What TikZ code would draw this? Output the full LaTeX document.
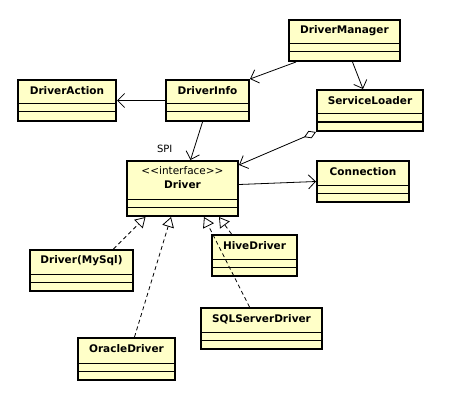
\documentclass[tikz,border=0pt]{standalone}
\usepackage{fontspec}
\setsansfont{DejaVu Sans}
\usetikzlibrary{arrows.meta,positioning}

\definecolor{umlfill}{RGB}{255,255,200}

\tikzset{
  classbox/.style={draw, line width=2pt, fill=umlfill, inner sep=0pt},
  classname/.style={font=\sffamily\bfseries\fontsize{10.5}{12}\selectfont, inner sep=0pt},
  assoc/.style={line width=0.8pt, -{Straight Barb[length=7pt,width=14pt]}},
  aggr/.style={line width=0.8pt, {Diamond[open,fill=white,length=13pt,width=8pt]}-{Straight Barb[length=7pt,width=14pt]}},
  realize/.style={line width=0.8pt, dash pattern=on 4pt off 3pt,
    -{Triangle[open,fill=white,length=10pt,width=12pt]}}
}

% class box: name, left, top, width, height, title
\newcommand\umlclass[6]{%
  \node[classbox, anchor=north west, minimum width=#4, minimum height=#5] (#1) at (#2,#3) {};
  \draw[line width=1pt] ([yshift=18]#1.south west) -- ([yshift=18]#1.south east);
  \draw[line width=1pt] ([yshift=10]#1.south west) -- ([yshift=10]#1.south east);
  \node[classname] (#1-t) at ([yshift=-12]#1.north) {#6};
}

\begin{document}
\begin{tikzpicture}[x=1pt, y=-1pt]
\useasboundingbox (0,0) rectangle (476,401);

\umlclass{mgr}{288}{19}{111}{41}{DriverManager}
\umlclass{action}{17}{79}{98}{41}{DriverAction}
\umlclass{info}{165}{79}{83}{41}{DriverInfo}
\umlclass{loader}{316}{89}{106}{41}{ServiceLoader}
\umlclass{conn}{316}{160}{92}{41}{Connection}
\umlclass{mysql}{29}{249}{103}{41}{Driver(MySql)}
\umlclass{hive}{211}{234}{85}{41}{HiveDriver}
\umlclass{sqls}{200}{307}{121}{41}{SQLServerDriver}
\umlclass{oracle}{77}{337}{97}{42}{OracleDriver}

% the interface
\node[classbox, anchor=north west, minimum width=111, minimum height=55] (drv) at (126,160) {};
\draw[line width=1pt] ([yshift=18]drv.south west) -- ([yshift=18]drv.south east);
\draw[line width=1pt] ([yshift=10]drv.south west) -- ([yshift=10]drv.south east);
\node[font=\sffamily\fontsize{10.5}{12}\selectfont, inner sep=0pt] (drv-s) at ([yshift=-11]drv.north) {<{}<interface>{}>};
\node[classname, below=5pt of drv-s] (drv-t) {Driver};

% associations
\draw[assoc] ([xshift=8]mgr.south west) -- (info.north east);
\draw[assoc] ([xshift=8]mgr.south) -- ([xshift=-7]loader.north);
\draw[assoc] (info) -- (action);
\draw[assoc] ([xshift=-5]info.south) -- node[pos=0.7, left=18pt, font=\sffamily\fontsize{10}{12}\selectfont] {SPI} ([xshift=8]drv.north);
\draw[aggr] (loader.south west) -- ([yshift=-5]drv.north east);
\draw[assoc] ([yshift=4]drv.east) -- (conn.west);

% implementations
\draw[realize] ([xshift=32]mysql.north) -- ([xshift=-37]drv.south);
\draw[realize] ([xshift=8]oracle.north) -- ([xshift=-11.5]drv.south);
\draw[realize] ([xshift=-23]hive.north) -- ([xshift=36.5]drv.south);
\draw[realize] ([xshift=-12]sqls.north) -- ([xshift=21.5]drv.south);
\end{tikzpicture}
\end{document}
